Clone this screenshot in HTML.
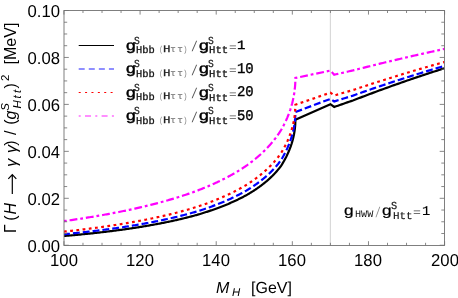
<!DOCTYPE html>
<html><head><meta charset="utf-8"><style>
html,body{margin:0;padding:0;background:#fff}
body{width:458px;height:298px;position:relative;overflow:hidden;font-family:"Liberation Sans",sans-serif;color:#000}
.t{position:absolute;white-space:nowrap;line-height:1;transform:matrix(1,0.002,0,1,0,0)}
.yl{font-size:17.3px;text-align:right;width:60px;left:0.3px;transform-origin:100% 50%;transform:matrix(0.965,0.002,0,1,0,0)}
.xl{font-size:17.3px;text-align:center;width:60px;transform:matrix(0.965,0.002,0,1,0,0)}
.a{font-size:16px}
#ylab{left:0;top:0;width:0;height:0;transform-origin:0 0;transform:translate(17.3px,232.1px) rotate(-90deg)}
#ylab span{position:absolute;white-space:nowrap;line-height:1;font-size:16px;top:-13.54px}
#ylab span.u{font-size:11.4px;top:-16.6px}
#ylab span.d{font-size:11.4px;top:-5.1px}
</style></head><body><div id="w" style="position:absolute;left:0;top:0;width:458px;height:298px;will-change:transform">
<svg width="458" height="298" viewBox="0 0 458 298" style="position:absolute;left:0;top:0"><defs><clipPath id="c"><rect x="63.95" y="10.5" width="380.65000000000003" height="234.75"/></clipPath></defs><line x1="330.35" y1="10.5" x2="330.35" y2="245.25" stroke="#d2d2d2" stroke-width="1"/><g clip-path="url(#c)" fill="none" stroke-width="2.2" stroke-linejoin="miter"><path d="M63.95,236.02 L65.46,235.89 L66.96,235.76 L68.44,235.63 L69.92,235.50 L71.39,235.37 L72.85,235.23 L74.31,235.10 L75.75,234.96 L77.18,234.83 L78.61,234.69 L80.02,234.56 L81.43,234.42 L82.83,234.28 L84.22,234.14 L85.60,234.00 L86.97,233.86 L88.34,233.72 L89.69,233.58 L91.04,233.43 L92.38,233.29 L93.72,233.15 L95.04,233.00 L96.36,232.86 L97.67,232.71 L98.97,232.56 L100.27,232.41 L101.55,232.27 L102.83,232.12 L104.11,231.97 L105.37,231.82 L106.63,231.66 L107.88,231.51 L109.13,231.36 L110.36,231.21 L111.59,231.05 L112.82,230.90 L114.03,230.74 L115.24,230.58 L116.44,230.43 L117.64,230.27 L118.83,230.11 L120.01,229.95 L121.19,229.79 L122.36,229.63 L123.52,229.47 L124.68,229.31 L125.83,229.14 L126.98,228.98 L128.11,228.82 L129.25,228.65 L130.37,228.48 L131.49,228.32 L132.61,228.15 L133.72,227.98 L134.82,227.81 L135.92,227.65 L137.01,227.48 L138.09,227.30 L139.17,227.13 L140.24,226.96 L141.31,226.79 L142.37,226.61 L143.43,226.44 L144.48,226.26 L145.53,226.09 L146.57,225.91 L147.60,225.73 L148.63,225.56 L149.66,225.38 L150.67,225.20 L151.69,225.02 L152.70,224.84 L153.70,224.66 L154.70,224.47 L155.69,224.29 L156.68,224.11 L157.66,223.92 L158.63,223.74 L159.61,223.55 L160.57,223.36 L161.54,223.18 L162.49,222.99 L163.45,222.80 L164.39,222.61 L165.33,222.42 L166.27,222.23 L167.21,222.04 L168.13,221.85 L169.06,221.65 L169.98,221.46 L170.89,221.26 L171.80,221.07 L172.70,220.87 L173.60,220.68 L174.50,220.48 L175.39,220.28 L176.28,220.08 L177.16,219.88 L178.04,219.68 L178.91,219.48 L179.78,219.28 L180.64,219.07 L181.50,218.87 L182.36,218.67 L183.21,218.46 L184.05,218.26 L184.90,218.05 L185.73,217.84 L186.57,217.64 L187.40,217.43 L188.22,217.22 L189.04,217.01 L189.86,216.80 L190.67,216.59 L191.48,216.37 L192.29,216.16 L193.09,215.95 L193.88,215.73 L194.67,215.52 L195.46,215.30 L196.25,215.08 L197.03,214.87 L197.80,214.64 L198.58,214.41 L199.34,214.18 L200.11,213.95 L200.87,213.72 L201.62,213.49 L202.38,213.26 L203.13,213.02 L203.87,212.79 L204.61,212.56 L205.35,212.32 L206.08,212.08 L206.81,211.85 L207.54,211.61 L208.26,211.37 L208.98,211.13 L209.69,210.90 L210.40,210.66 L211.11,210.41 L211.82,210.17 L212.52,209.93 L213.21,209.69 L213.90,209.44 L214.59,209.20 L215.28,208.96 L215.96,208.71 L216.64,208.46 L217.31,208.22 L217.98,207.97 L218.65,207.72 L219.32,207.47 L219.98,207.22 L220.63,206.97 L221.29,206.72 L221.94,206.47 L222.58,206.21 L223.23,205.96 L223.87,205.71 L224.50,205.45 L225.14,205.19 L225.77,204.94 L226.39,204.68 L227.02,204.42 L227.63,204.16 L228.25,203.91 L228.86,203.64 L229.47,203.38 L230.08,203.12 L230.68,202.86 L231.28,202.60 L231.88,202.33 L232.47,202.07 L233.06,201.80 L233.65,201.54 L234.23,201.27 L234.81,201.00 L235.39,200.74 L235.96,200.47 L236.53,200.20 L237.10,199.93 L237.66,199.66 L238.22,199.38 L238.78,199.11 L239.33,198.84 L239.88,198.56 L240.43,198.29 L240.98,198.01 L241.52,197.74 L242.06,197.46 L242.59,197.18 L243.13,196.90 L243.66,196.62 L244.18,196.34 L244.71,196.06 L245.23,195.78 L245.74,195.50 L246.26,195.22 L246.77,194.93 L247.28,194.64 L247.78,194.34 L248.28,194.05 L248.78,193.75 L249.28,193.46 L249.77,193.16 L250.26,192.86 L250.75,192.57 L251.23,192.27 L251.72,191.97 L252.19,191.67 L252.67,191.37 L253.14,191.07 L253.61,190.76 L254.08,190.46 L254.54,190.16 L255.00,189.85 L255.46,189.55 L255.92,189.24 L256.37,188.93 L256.82,188.63 L257.26,188.32 L257.71,188.01 L258.15,187.70 L258.59,187.39 L259.02,187.08 L259.45,186.77 L259.88,186.46 L260.31,186.14 L260.73,185.83 L261.15,185.52 L261.57,185.20 L261.99,184.88 L262.40,184.57 L262.81,184.25 L263.22,183.93 L263.62,183.61 L264.02,183.29 L264.42,182.97 L264.82,182.65 L265.21,182.33 L265.60,182.01 L265.99,181.69 L266.37,181.36 L266.76,181.04 L267.14,180.71 L267.51,180.39 L267.89,180.06 L268.26,179.73 L268.63,179.40 L268.99,179.08 L269.36,178.75 L269.72,178.42 L270.08,178.08 L270.43,177.75 L270.78,177.42 L271.13,177.09 L271.48,176.75 L271.83,176.42 L272.17,176.08 L272.51,175.75 L272.84,175.41 L273.18,175.07 L273.51,174.73 L273.84,174.40 L274.16,174.06 L274.49,173.72 L274.81,173.37 L275.13,173.03 L275.44,172.69 L275.76,172.35 L276.07,172.00 L276.37,171.66 L276.68,171.31 L276.98,170.97 L277.28,170.62 L277.58,170.27 L277.87,169.92 L278.17,169.57 L278.46,169.22 L278.74,168.87 L279.03,168.52 L279.31,168.17 L279.59,167.82 L279.87,167.47 L280.14,167.11 L280.41,166.76 L280.68,166.40 L280.95,166.04 L281.21,165.62 L281.48,165.21 L281.74,164.80 L281.99,164.38 L282.25,163.97 L282.50,163.56 L282.75,163.14 L282.99,162.73 L283.24,162.31 L283.48,161.90 L283.72,161.48 L283.96,161.07 L284.19,160.65 L284.42,160.24 L284.65,159.82 L284.88,159.41 L285.10,158.99 L285.32,158.57 L285.54,158.16 L285.76,157.74 L285.97,157.32 L286.19,156.91 L286.40,156.49 L286.60,156.07 L286.81,155.66 L287.01,155.24 L287.21,154.82 L287.41,154.40 L287.60,153.98 L287.79,153.57 L287.98,153.15 L288.17,152.73 L288.36,152.31 L288.54,151.89 L288.72,151.47 L288.90,151.05 L289.07,150.63 L289.24,150.22 L289.41,149.80 L289.58,149.38 L289.75,148.96 L289.91,148.54 L290.07,148.12 L290.23,147.70 L290.38,147.28 L290.54,146.86 L290.69,146.43 L290.84,146.01 L290.98,145.59 L291.13,145.17 L291.27,144.75 L291.41,144.33 L291.54,143.91 L291.68,143.49 L291.81,143.06 L291.94,142.64 L292.06,142.22 L292.19,141.80 L292.31,141.38 L292.43,140.96 L292.55,140.53 L292.66,140.11 L292.78,139.69 L292.89,139.27 L292.99,138.84 L293.10,138.42 L293.20,138.00 L293.30,137.57 L293.40,137.15 L293.50,136.73 L293.59,136.31 L293.68,135.88 L293.77,135.46 L293.86,135.04 L293.94,134.61 L294.02,134.19 L294.10,133.77 L294.18,133.34 L294.25,132.92 L294.32,132.50 L294.39,132.07 L294.46,131.65 L294.53,131.22 L294.59,130.80 L294.65,130.38 L294.71,129.95 L294.76,129.53 L294.81,129.11 L294.87,128.68 L294.91,128.26 L294.96,127.84 L295.00,127.41 L295.04,126.99 L295.08,126.57 L295.12,126.14 L295.15,125.72 L295.19,125.30 L295.22,124.87 L295.24,124.45 L295.27,124.03 L295.29,123.60 L295.31,123.18 L295.33,122.76 L295.34,122.33 L295.36,121.91 L295.37,121.49 L295.37,121.07 L295.38,120.64 L295.38,120.22 L295.39,119.80 L330.41,104.20 L334.21,107.00 L336.08,106.33 L337.95,105.67 L339.82,105.01 L341.70,104.35 L343.57,103.70 L345.44,103.05 L347.31,102.40 L349.18,101.76 L351.05,101.12 L352.92,100.48 L354.79,99.77 L356.66,99.04 L358.53,98.32 L360.41,97.60 L362.28,96.88 L364.15,96.17 L366.02,95.46 L367.89,94.75 L369.76,94.05 L371.63,93.35 L373.50,92.65 L375.37,91.95 L377.24,91.26 L379.12,90.57 L380.99,89.89 L382.86,89.20 L384.73,88.52 L386.60,87.85 L388.47,87.17 L390.34,86.50 L392.21,85.83 L394.08,85.16 L395.95,84.50 L397.83,83.84 L399.70,83.18 L401.57,82.53 L403.44,81.88 L405.31,81.23 L407.18,80.58 L409.05,79.94 L410.92,79.30 L412.79,78.66 L414.66,78.02 L416.54,77.39 L418.41,76.76 L420.28,76.13 L422.15,75.51 L424.02,74.88 L425.89,74.26 L427.76,73.65 L429.63,73.03 L431.50,72.42 L433.37,71.81 L435.25,71.20 L437.12,70.60 L438.99,69.99 L440.86,69.39 L442.73,68.80 L444.60,68.20" stroke="#000"/><path d="M63.95,234.23 L65.46,234.08 L66.96,233.94 L68.44,233.79 L69.92,233.65 L71.39,233.50 L72.85,233.35 L74.31,233.20 L75.75,233.06 L77.18,232.91 L78.61,232.75 L80.02,232.60 L81.43,232.45 L82.83,232.30 L84.22,232.15 L85.60,231.99 L86.97,231.84 L88.34,231.68 L89.69,231.53 L91.04,231.37 L92.38,231.21 L93.72,231.05 L95.04,230.89 L96.36,230.73 L97.67,230.57 L98.97,230.41 L100.27,230.25 L101.55,230.09 L102.83,229.92 L104.11,229.76 L105.37,229.60 L106.63,229.43 L107.88,229.26 L109.13,229.10 L110.36,228.93 L111.59,228.76 L112.82,228.59 L114.03,228.42 L115.24,228.25 L116.44,228.08 L117.64,227.91 L118.83,227.74 L120.01,227.56 L121.19,227.39 L122.36,227.22 L123.52,227.04 L124.68,226.86 L125.83,226.69 L126.98,226.51 L128.11,226.33 L129.25,226.15 L130.37,225.97 L131.49,225.79 L132.61,225.61 L133.72,225.43 L134.82,225.25 L135.92,225.07 L137.01,224.88 L138.09,224.70 L139.17,224.51 L140.24,224.33 L141.31,224.14 L142.37,223.95 L143.43,223.76 L144.48,223.58 L145.53,223.39 L146.57,223.20 L147.60,223.01 L148.63,222.81 L149.66,222.62 L150.67,222.43 L151.69,222.24 L152.70,222.04 L153.70,221.85 L154.70,221.65 L155.69,221.45 L156.68,221.26 L157.66,221.06 L158.63,220.86 L159.61,220.66 L160.57,220.46 L161.54,220.26 L162.49,220.06 L163.45,219.85 L164.39,219.65 L165.33,219.45 L166.27,219.24 L167.21,219.04 L168.13,218.83 L169.06,218.63 L169.98,218.42 L170.89,218.21 L171.80,218.00 L172.70,217.79 L173.60,217.58 L174.50,217.37 L175.39,217.16 L176.28,216.95 L177.16,216.73 L178.04,216.52 L178.91,216.31 L179.78,216.09 L180.64,215.87 L181.50,215.66 L182.36,215.44 L183.21,215.22 L184.05,215.00 L184.90,214.78 L185.73,214.56 L186.57,214.34 L187.40,214.12 L188.22,213.90 L189.04,213.67 L189.86,213.45 L190.67,213.22 L191.48,213.00 L192.29,212.77 L193.09,212.55 L193.88,212.32 L194.67,212.09 L195.46,211.86 L196.25,211.63 L197.03,211.40 L197.80,211.16 L198.58,210.92 L199.34,210.67 L200.11,210.43 L200.87,210.18 L201.62,209.93 L202.38,209.69 L203.13,209.44 L203.87,209.19 L204.61,208.94 L205.35,208.69 L206.08,208.44 L206.81,208.19 L207.54,207.94 L208.26,207.69 L208.98,207.43 L209.69,207.18 L210.40,206.92 L211.11,206.67 L211.82,206.41 L212.52,206.16 L213.21,205.90 L213.90,205.64 L214.59,205.38 L215.28,205.12 L215.96,204.86 L216.64,204.60 L217.31,204.34 L217.98,204.08 L218.65,203.81 L219.32,203.55 L219.98,203.28 L220.63,203.02 L221.29,202.75 L221.94,202.49 L222.58,202.22 L223.23,201.95 L223.87,201.68 L224.50,201.41 L225.14,201.14 L225.77,200.87 L226.39,200.60 L227.02,200.33 L227.63,200.06 L228.25,199.78 L228.86,199.51 L229.47,199.23 L230.08,198.96 L230.68,198.68 L231.28,198.40 L231.88,198.12 L232.47,197.84 L233.06,197.57 L233.65,197.29 L234.23,197.00 L234.81,196.72 L235.39,196.44 L235.96,196.16 L236.53,195.87 L237.10,195.59 L237.66,195.30 L238.22,195.02 L238.78,194.73 L239.33,194.44 L239.88,194.15 L240.43,193.86 L240.98,193.58 L241.52,193.28 L242.06,192.99 L242.59,192.70 L243.13,192.41 L243.66,192.12 L244.18,191.82 L244.71,191.53 L245.23,191.23 L245.74,190.93 L246.26,190.64 L246.77,190.34 L247.28,190.03 L247.78,189.72 L248.28,189.41 L248.78,189.10 L249.28,188.79 L249.77,188.48 L250.26,188.17 L250.75,187.86 L251.23,187.54 L251.72,187.23 L252.19,186.91 L252.67,186.60 L253.14,186.28 L253.61,185.97 L254.08,185.65 L254.54,185.33 L255.00,185.01 L255.46,184.69 L255.92,184.37 L256.37,184.05 L256.82,183.73 L257.26,183.41 L257.71,183.08 L258.15,182.76 L258.59,182.43 L259.02,182.11 L259.45,181.78 L259.88,181.46 L260.31,181.13 L260.73,180.80 L261.15,180.47 L261.57,180.14 L261.99,179.81 L262.40,179.48 L262.81,179.15 L263.22,178.82 L263.62,178.49 L264.02,178.15 L264.42,177.82 L264.82,177.48 L265.21,177.15 L265.60,176.81 L265.99,176.47 L266.37,176.14 L266.76,175.80 L267.14,175.46 L267.51,175.12 L267.89,174.78 L268.26,174.43 L268.63,174.09 L268.99,173.75 L269.36,173.41 L269.72,173.06 L270.08,172.72 L270.43,172.37 L270.78,172.02 L271.13,171.68 L271.48,171.33 L271.83,170.98 L272.17,170.63 L272.51,170.28 L272.84,169.93 L273.18,169.58 L273.51,169.23 L273.84,168.87 L274.16,168.52 L274.49,168.16 L274.81,167.81 L275.13,167.45 L275.44,167.10 L275.76,166.74 L276.07,166.38 L276.37,166.02 L276.68,165.66 L276.98,165.30 L277.28,164.94 L277.58,164.58 L277.87,164.22 L278.17,163.86 L278.46,163.49 L278.74,163.13 L279.03,162.76 L279.31,162.40 L279.59,162.03 L279.87,161.66 L280.14,161.30 L280.41,160.93 L280.68,160.56 L280.95,160.18 L281.21,159.75 L281.48,159.31 L281.74,158.88 L281.99,158.44 L282.25,158.01 L282.50,157.57 L282.75,157.14 L282.99,156.70 L283.24,156.27 L283.48,155.83 L283.72,155.40 L283.96,154.96 L284.19,154.53 L284.42,154.09 L284.65,153.66 L284.88,153.22 L285.10,152.79 L285.32,152.35 L285.54,151.91 L285.76,151.48 L285.97,151.04 L286.19,150.60 L286.40,150.17 L286.60,149.73 L286.81,149.30 L287.01,148.86 L287.21,148.42 L287.41,147.99 L287.60,147.55 L287.79,147.11 L287.98,146.67 L288.17,146.24 L288.36,145.80 L288.54,145.36 L288.72,144.93 L288.90,144.49 L289.07,144.05 L289.24,143.61 L289.41,143.18 L289.58,142.74 L289.75,142.30 L289.91,141.86 L290.07,141.42 L290.23,140.99 L290.38,140.55 L290.54,140.11 L290.69,139.67 L290.84,139.23 L290.98,138.80 L291.13,138.36 L291.27,137.92 L291.41,137.48 L291.54,137.04 L291.68,136.60 L291.81,136.17 L291.94,135.73 L292.06,135.29 L292.19,134.85 L292.31,134.41 L292.43,133.97 L292.55,133.54 L292.66,133.10 L292.78,132.66 L292.89,132.22 L292.99,131.78 L293.10,131.34 L293.20,130.90 L293.30,130.46 L293.40,130.03 L293.50,129.59 L293.59,129.15 L293.68,128.71 L293.77,128.27 L293.86,127.83 L293.94,127.39 L294.02,126.96 L294.10,126.52 L294.18,126.08 L294.25,125.64 L294.32,125.20 L294.39,124.76 L294.46,124.33 L294.53,123.89 L294.59,123.45 L294.65,123.01 L294.71,122.57 L294.76,122.14 L294.81,121.70 L294.87,121.26 L294.91,120.82 L294.96,120.38 L295.00,119.95 L295.04,119.51 L295.08,119.07 L295.12,118.64 L295.15,118.20 L295.19,117.76 L295.22,117.33 L295.24,116.89 L295.27,116.45 L295.29,116.02 L295.31,115.58 L295.33,115.15 L295.34,114.71 L295.36,114.27 L295.37,113.84 L295.37,113.40 L295.38,112.97 L295.38,112.53 L295.39,112.10 L330.41,98.90 L334.21,101.50 L336.08,100.90 L337.95,100.30 L339.82,99.70 L341.70,99.11 L343.57,98.52 L345.44,97.93 L347.31,97.34 L349.18,96.76 L351.05,96.18 L352.92,95.60 L354.79,94.95 L356.66,94.28 L358.53,93.62 L360.41,92.95 L362.28,92.29 L364.15,91.64 L366.02,90.99 L367.89,90.33 L369.76,89.69 L371.63,89.04 L373.50,88.40 L375.37,87.76 L377.24,87.12 L379.12,86.49 L380.99,85.86 L382.86,85.23 L384.73,84.60 L386.60,83.98 L388.47,83.36 L390.34,82.74 L392.21,82.12 L394.08,81.51 L395.95,80.90 L397.83,80.29 L399.70,79.69 L401.57,79.08 L403.44,78.48 L405.31,77.89 L407.18,77.29 L409.05,76.70 L410.92,76.11 L412.79,75.52 L414.66,74.94 L416.54,74.35 L418.41,73.77 L420.28,73.19 L422.15,72.62 L424.02,72.05 L425.89,71.48 L427.76,70.91 L429.63,70.34 L431.50,69.78 L433.37,69.22 L435.25,68.66 L437.12,68.10 L438.99,67.55 L440.86,67.00 L442.73,66.45 L444.60,65.90" stroke="#0000ff" stroke-dasharray="6.9 3.0" stroke-dashoffset="0.9"/><path d="M63.95,231.61 L65.46,231.45 L66.96,231.29 L68.44,231.13 L69.92,230.96 L71.39,230.80 L72.85,230.64 L74.31,230.47 L75.75,230.30 L77.18,230.14 L78.61,229.97 L80.02,229.80 L81.43,229.63 L82.83,229.46 L84.22,229.29 L85.60,229.12 L86.97,228.95 L88.34,228.78 L89.69,228.61 L91.04,228.43 L92.38,228.26 L93.72,228.08 L95.04,227.91 L96.36,227.73 L97.67,227.55 L98.97,227.38 L100.27,227.20 L101.55,227.02 L102.83,226.84 L104.11,226.66 L105.37,226.48 L106.63,226.30 L107.88,226.11 L109.13,225.93 L110.36,225.75 L111.59,225.56 L112.82,225.38 L114.03,225.19 L115.24,225.00 L116.44,224.82 L117.64,224.63 L118.83,224.44 L120.01,224.25 L121.19,224.06 L122.36,223.87 L123.52,223.68 L124.68,223.49 L125.83,223.29 L126.98,223.10 L128.11,222.91 L129.25,222.71 L130.37,222.52 L131.49,222.32 L132.61,222.12 L133.72,221.93 L134.82,221.73 L135.92,221.53 L137.01,221.33 L138.09,221.13 L139.17,220.93 L140.24,220.72 L141.31,220.52 L142.37,220.32 L143.43,220.12 L144.48,219.91 L145.53,219.71 L146.57,219.50 L147.60,219.29 L148.63,219.09 L149.66,218.88 L150.67,218.67 L151.69,218.46 L152.70,218.25 L153.70,218.04 L154.70,217.83 L155.69,217.61 L156.68,217.40 L157.66,217.19 L158.63,216.97 L159.61,216.76 L160.57,216.54 L161.54,216.33 L162.49,216.11 L163.45,215.89 L164.39,215.67 L165.33,215.45 L166.27,215.23 L167.21,215.01 L168.13,214.79 L169.06,214.57 L169.98,214.34 L170.89,214.12 L171.80,213.90 L172.70,213.67 L173.60,213.45 L174.50,213.22 L175.39,212.99 L176.28,212.76 L177.16,212.54 L178.04,212.31 L178.91,212.08 L179.78,211.85 L180.64,211.61 L181.50,211.38 L182.36,211.15 L183.21,210.92 L184.05,210.68 L184.90,210.45 L185.73,210.21 L186.57,209.97 L187.40,209.74 L188.22,209.50 L189.04,209.26 L189.86,209.02 L190.67,208.78 L191.48,208.54 L192.29,208.30 L193.09,208.06 L193.88,207.81 L194.67,207.57 L195.46,207.32 L196.25,207.08 L197.03,206.83 L197.80,206.58 L198.58,206.32 L199.34,206.06 L200.11,205.80 L200.87,205.54 L201.62,205.28 L202.38,205.02 L203.13,204.75 L203.87,204.49 L204.61,204.23 L205.35,203.96 L206.08,203.70 L206.81,203.43 L207.54,203.17 L208.26,202.90 L208.98,202.63 L209.69,202.36 L210.40,202.09 L211.11,201.82 L211.82,201.55 L212.52,201.28 L213.21,201.01 L213.90,200.74 L214.59,200.46 L215.28,200.19 L215.96,199.91 L216.64,199.64 L217.31,199.36 L217.98,199.08 L218.65,198.81 L219.32,198.53 L219.98,198.25 L220.63,197.97 L221.29,197.69 L221.94,197.41 L222.58,197.13 L223.23,196.84 L223.87,196.56 L224.50,196.28 L225.14,195.99 L225.77,195.71 L226.39,195.42 L227.02,195.13 L227.63,194.84 L228.25,194.56 L228.86,194.27 L229.47,193.98 L230.08,193.69 L230.68,193.40 L231.28,193.10 L231.88,192.81 L232.47,192.52 L233.06,192.22 L233.65,191.93 L234.23,191.63 L234.81,191.34 L235.39,191.04 L235.96,190.74 L236.53,190.44 L237.10,190.14 L237.66,189.84 L238.22,189.54 L238.78,189.24 L239.33,188.94 L239.88,188.64 L240.43,188.33 L240.98,188.03 L241.52,187.72 L242.06,187.42 L242.59,187.11 L243.13,186.81 L243.66,186.50 L244.18,186.19 L244.71,185.88 L245.23,185.57 L245.74,185.26 L246.26,184.95 L246.77,184.63 L247.28,184.31 L247.78,183.99 L248.28,183.66 L248.78,183.34 L249.28,183.01 L249.77,182.69 L250.26,182.36 L250.75,182.03 L251.23,181.71 L251.72,181.38 L252.19,181.05 L252.67,180.72 L253.14,180.39 L253.61,180.06 L254.08,179.73 L254.54,179.39 L255.00,179.06 L255.46,178.72 L255.92,178.39 L256.37,178.05 L256.82,177.72 L257.26,177.38 L257.71,177.04 L258.15,176.71 L258.59,176.37 L259.02,176.03 L259.45,175.69 L259.88,175.35 L260.31,175.00 L260.73,174.66 L261.15,174.32 L261.57,173.97 L261.99,173.63 L262.40,173.28 L262.81,172.94 L263.22,172.59 L263.62,172.24 L264.02,171.90 L264.42,171.55 L264.82,171.20 L265.21,170.85 L265.60,170.50 L265.99,170.14 L266.37,169.79 L266.76,169.44 L267.14,169.08 L267.51,168.73 L267.89,168.37 L268.26,168.02 L268.63,167.66 L268.99,167.30 L269.36,166.95 L269.72,166.59 L270.08,166.23 L270.43,165.87 L270.78,165.51 L271.13,165.14 L271.48,164.78 L271.83,164.42 L272.17,164.06 L272.51,163.69 L272.84,163.33 L273.18,162.96 L273.51,162.59 L273.84,162.23 L274.16,161.86 L274.49,161.49 L274.81,161.12 L275.13,160.75 L275.44,160.38 L275.76,160.01 L276.07,159.63 L276.37,159.26 L276.68,158.89 L276.98,158.51 L277.28,158.14 L277.58,157.76 L277.87,157.38 L278.17,157.01 L278.46,156.63 L278.74,156.25 L279.03,155.87 L279.31,155.49 L279.59,155.11 L279.87,154.73 L280.14,154.35 L280.41,153.96 L280.68,153.58 L280.95,153.19 L281.21,152.76 L281.48,152.33 L281.74,151.91 L281.99,151.48 L282.25,151.05 L282.50,150.62 L282.75,150.19 L282.99,149.76 L283.24,149.33 L283.48,148.90 L283.72,148.47 L283.96,148.04 L284.19,147.61 L284.42,147.18 L284.65,146.74 L284.88,146.31 L285.10,145.88 L285.32,145.45 L285.54,145.01 L285.76,144.58 L285.97,144.15 L286.19,143.71 L286.40,143.28 L286.60,142.85 L286.81,142.41 L287.01,141.98 L287.21,141.54 L287.41,141.11 L287.60,140.67 L287.79,140.23 L287.98,139.80 L288.17,139.36 L288.36,138.92 L288.54,138.49 L288.72,138.05 L288.90,137.61 L289.07,137.17 L289.24,136.74 L289.41,136.30 L289.58,135.86 L289.75,135.42 L289.91,134.98 L290.07,134.54 L290.23,134.10 L290.38,133.66 L290.54,133.22 L290.69,132.78 L290.84,132.34 L290.98,131.90 L291.13,131.46 L291.27,131.02 L291.41,130.58 L291.54,130.13 L291.68,129.69 L291.81,129.25 L291.94,128.81 L292.06,128.37 L292.19,127.92 L292.31,127.48 L292.43,127.04 L292.55,126.59 L292.66,126.15 L292.78,125.71 L292.89,125.26 L292.99,124.82 L293.10,124.37 L293.20,123.93 L293.30,123.48 L293.40,123.04 L293.50,122.59 L293.59,122.15 L293.68,121.70 L293.77,121.26 L293.86,120.81 L293.94,120.37 L294.02,119.92 L294.10,119.47 L294.18,119.03 L294.25,118.58 L294.32,118.13 L294.39,117.69 L294.46,117.24 L294.53,116.79 L294.59,116.35 L294.65,115.90 L294.71,115.45 L294.76,115.00 L294.81,114.56 L294.87,114.11 L294.91,113.66 L294.96,113.21 L295.00,112.77 L295.04,112.32 L295.08,111.87 L295.12,111.42 L295.15,110.97 L295.19,110.53 L295.22,110.08 L295.24,109.63 L295.27,109.18 L295.29,108.73 L295.31,108.28 L295.33,107.84 L295.34,107.39 L295.36,106.94 L295.37,106.49 L295.37,106.04 L295.38,105.60 L295.38,105.15 L295.39,104.70 L330.41,92.70 L334.21,95.50 L336.08,94.95 L337.95,94.39 L339.82,93.84 L341.70,93.30 L343.57,92.75 L345.44,92.20 L347.31,91.66 L349.18,91.12 L351.05,90.58 L352.92,90.05 L354.79,89.43 L356.66,88.81 L358.53,88.18 L360.41,87.56 L362.28,86.94 L364.15,86.32 L366.02,85.71 L367.89,85.10 L369.76,84.48 L371.63,83.88 L373.50,83.27 L375.37,82.67 L377.24,82.07 L379.12,81.47 L380.99,80.87 L382.86,80.28 L384.73,79.69 L386.60,79.10 L388.47,78.51 L390.34,77.93 L392.21,77.35 L394.08,76.77 L395.95,76.19 L397.83,75.62 L399.70,75.05 L401.57,74.48 L403.44,73.91 L405.31,73.34 L407.18,72.78 L409.05,72.22 L410.92,71.66 L412.79,71.11 L414.66,70.55 L416.54,70.00 L418.41,69.45 L420.28,68.91 L422.15,68.36 L424.02,67.82 L425.89,67.28 L427.76,66.74 L429.63,66.21 L431.50,65.67 L433.37,65.14 L435.25,64.61 L437.12,64.09 L438.99,63.56 L440.86,63.04 L442.73,62.52 L444.60,62.00" stroke="#ff0000" stroke-dasharray="2.8 3.45" stroke-dashoffset="0"/><path d="M63.95,221.12 L65.46,220.91 L66.96,220.70 L68.44,220.49 L69.92,220.28 L71.39,220.06 L72.85,219.85 L74.31,219.64 L75.75,219.42 L77.18,219.21 L78.61,218.99 L80.02,218.77 L81.43,218.56 L82.83,218.34 L84.22,218.12 L85.60,217.90 L86.97,217.68 L88.34,217.46 L89.69,217.24 L91.04,217.02 L92.38,216.80 L93.72,216.58 L95.04,216.35 L96.36,216.13 L97.67,215.90 L98.97,215.68 L100.27,215.45 L101.55,215.23 L102.83,215.00 L104.11,214.77 L105.37,214.54 L106.63,214.31 L107.88,214.08 L109.13,213.85 L110.36,213.62 L111.59,213.39 L112.82,213.16 L114.03,212.93 L115.24,212.69 L116.44,212.46 L117.64,212.23 L118.83,211.99 L120.01,211.75 L121.19,211.52 L122.36,211.28 L123.52,211.04 L124.68,210.80 L125.83,210.57 L126.98,210.33 L128.11,210.09 L129.25,209.84 L130.37,209.60 L131.49,209.36 L132.61,209.12 L133.72,208.87 L134.82,208.63 L135.92,208.38 L137.01,208.14 L138.09,207.89 L139.17,207.64 L140.24,207.40 L141.31,207.15 L142.37,206.90 L143.43,206.65 L144.48,206.40 L145.53,206.15 L146.57,205.90 L147.60,205.64 L148.63,205.39 L149.66,205.14 L150.67,204.88 L151.69,204.63 L152.70,204.37 L153.70,204.12 L154.70,203.86 L155.69,203.60 L156.68,203.34 L157.66,203.09 L158.63,202.83 L159.61,202.57 L160.57,202.30 L161.54,202.04 L162.49,201.78 L163.45,201.52 L164.39,201.25 L165.33,200.99 L166.27,200.72 L167.21,200.46 L168.13,200.19 L169.06,199.92 L169.98,199.66 L170.89,199.39 L171.80,199.12 L172.70,198.85 L173.60,198.58 L174.50,198.31 L175.39,198.03 L176.28,197.76 L177.16,197.49 L178.04,197.21 L178.91,196.94 L179.78,196.66 L180.64,196.39 L181.50,196.11 L182.36,195.83 L183.21,195.56 L184.05,195.28 L184.90,195.00 L185.73,194.72 L186.57,194.44 L187.40,194.15 L188.22,193.87 L189.04,193.59 L189.86,193.30 L190.67,193.02 L191.48,192.73 L192.29,192.45 L193.09,192.16 L193.88,191.87 L194.67,191.59 L195.46,191.30 L196.25,191.01 L197.03,190.72 L197.80,190.42 L198.58,190.12 L199.34,189.83 L200.11,189.53 L200.87,189.23 L201.62,188.93 L202.38,188.63 L203.13,188.32 L203.87,188.02 L204.61,187.72 L205.35,187.42 L206.08,187.11 L206.81,186.81 L207.54,186.50 L208.26,186.19 L208.98,185.89 L209.69,185.58 L210.40,185.27 L211.11,184.96 L211.82,184.65 L212.52,184.34 L213.21,184.03 L213.90,183.72 L214.59,183.40 L215.28,183.09 L215.96,182.78 L216.64,182.46 L217.31,182.14 L217.98,181.83 L218.65,181.51 L219.32,181.19 L219.98,180.87 L220.63,180.55 L221.29,180.23 L221.94,179.91 L222.58,179.59 L223.23,179.27 L223.87,178.95 L224.50,178.62 L225.14,178.30 L225.77,177.97 L226.39,177.65 L227.02,177.32 L227.63,176.99 L228.25,176.67 L228.86,176.34 L229.47,176.01 L230.08,175.68 L230.68,175.35 L231.28,175.02 L231.88,174.68 L232.47,174.35 L233.06,174.02 L233.65,173.68 L234.23,173.35 L234.81,173.01 L235.39,172.67 L235.96,172.33 L236.53,172.00 L237.10,171.66 L237.66,171.32 L238.22,170.98 L238.78,170.64 L239.33,170.29 L239.88,169.95 L240.43,169.61 L240.98,169.26 L241.52,168.92 L242.06,168.57 L242.59,168.22 L243.13,167.88 L243.66,167.53 L244.18,167.18 L244.71,166.83 L245.23,166.48 L245.74,166.13 L246.26,165.78 L246.77,165.42 L247.28,165.06 L247.78,164.69 L248.28,164.33 L248.78,163.96 L249.28,163.60 L249.77,163.23 L250.26,162.86 L250.75,162.49 L251.23,162.12 L251.72,161.75 L252.19,161.38 L252.67,161.01 L253.14,160.63 L253.61,160.26 L254.08,159.89 L254.54,159.51 L255.00,159.14 L255.46,158.76 L255.92,158.38 L256.37,158.01 L256.82,157.63 L257.26,157.25 L257.71,156.87 L258.15,156.49 L258.59,156.11 L259.02,155.73 L259.45,155.34 L259.88,154.96 L260.31,154.58 L260.73,154.19 L261.15,153.81 L261.57,153.42 L261.99,153.04 L262.40,152.65 L262.81,152.26 L263.22,151.87 L263.62,151.48 L264.02,151.09 L264.42,150.70 L264.82,150.31 L265.21,149.92 L265.60,149.52 L265.99,149.13 L266.37,148.73 L266.76,148.34 L267.14,147.94 L267.51,147.55 L267.89,147.15 L268.26,146.75 L268.63,146.35 L268.99,145.95 L269.36,145.55 L269.72,145.15 L270.08,144.75 L270.43,144.35 L270.78,143.94 L271.13,143.54 L271.48,143.13 L271.83,142.73 L272.17,142.32 L272.51,141.92 L272.84,141.51 L273.18,141.10 L273.51,140.69 L273.84,140.28 L274.16,139.87 L274.49,139.46 L274.81,139.05 L275.13,138.64 L275.44,138.22 L275.76,137.81 L276.07,137.39 L276.37,136.98 L276.68,136.56 L276.98,136.15 L277.28,135.73 L277.58,135.31 L277.87,134.89 L278.17,134.47 L278.46,134.05 L278.74,133.63 L279.03,133.21 L279.31,132.79 L279.59,132.36 L279.87,131.94 L280.14,131.51 L280.41,131.09 L280.68,130.66 L280.95,130.23 L281.21,129.78 L281.48,129.32 L281.74,128.87 L281.99,128.41 L282.25,127.96 L282.50,127.50 L282.75,127.05 L282.99,126.59 L283.24,126.13 L283.48,125.67 L283.72,125.21 L283.96,124.76 L284.19,124.30 L284.42,123.84 L284.65,123.38 L284.88,122.92 L285.10,122.46 L285.32,121.99 L285.54,121.53 L285.76,121.07 L285.97,120.61 L286.19,120.14 L286.40,119.68 L286.60,119.22 L286.81,118.75 L287.01,118.29 L287.21,117.82 L287.41,117.36 L287.60,116.89 L287.79,116.42 L287.98,115.96 L288.17,115.49 L288.36,115.02 L288.54,114.55 L288.72,114.08 L288.90,113.61 L289.07,113.14 L289.24,112.67 L289.41,112.20 L289.58,111.73 L289.75,111.26 L289.91,110.79 L290.07,110.32 L290.23,109.85 L290.38,109.37 L290.54,108.90 L290.69,108.43 L290.84,107.95 L290.98,107.48 L291.13,107.01 L291.27,106.53 L291.41,106.06 L291.54,105.58 L291.68,105.10 L291.81,104.63 L291.94,104.15 L292.06,103.67 L292.19,103.20 L292.31,102.72 L292.43,102.24 L292.55,101.76 L292.66,101.28 L292.78,100.80 L292.89,100.32 L292.99,99.85 L293.10,99.37 L293.20,98.88 L293.30,98.40 L293.40,97.92 L293.50,97.44 L293.59,96.96 L293.68,96.48 L293.77,96.00 L293.86,95.51 L293.94,95.03 L294.02,94.55 L294.10,94.06 L294.18,93.58 L294.25,93.10 L294.32,92.61 L294.39,92.13 L294.46,91.64 L294.53,91.16 L294.59,90.67 L294.65,90.19 L294.71,89.70 L294.76,89.22 L294.81,88.73 L294.87,88.25 L294.91,87.76 L294.96,87.27 L295.00,86.79 L295.04,86.30 L295.08,85.81 L295.12,85.32 L295.15,84.84 L295.19,84.35 L295.22,83.86 L295.24,83.37 L295.27,82.89 L295.29,82.40 L295.31,81.91 L295.33,81.42 L295.34,80.93 L295.36,80.44 L295.37,79.96 L295.37,79.47 L295.38,78.98 L295.38,78.49 L295.39,78.00 L330.41,70.60 L334.21,74.70 L336.08,74.28 L337.95,73.85 L339.82,73.42 L341.70,72.99 L343.57,72.57 L345.44,72.14 L347.31,71.71 L349.18,71.28 L351.05,70.85 L352.92,70.43 L354.79,69.96 L356.66,69.49 L358.53,69.01 L360.41,68.54 L362.28,68.07 L364.15,67.60 L366.02,67.14 L367.89,66.67 L369.76,66.20 L371.63,65.74 L373.50,65.28 L375.37,64.81 L377.24,64.35 L379.12,63.90 L380.99,63.44 L382.86,62.98 L384.73,62.53 L386.60,62.08 L388.47,61.63 L390.34,61.18 L392.21,60.73 L394.08,60.29 L395.95,59.84 L397.83,59.40 L399.70,58.96 L401.57,58.52 L403.44,58.08 L405.31,57.65 L407.18,57.22 L409.05,56.78 L410.92,56.35 L412.79,55.93 L414.66,55.50 L416.54,55.07 L418.41,54.65 L420.28,54.23 L422.15,53.81 L424.02,53.39 L425.89,52.97 L427.76,52.56 L429.63,52.15 L431.50,51.73 L433.37,51.32 L435.25,50.92 L437.12,50.51 L438.99,50.10 L440.86,49.70 L442.73,49.30 L444.60,48.90" stroke="#ff00ff" stroke-dasharray="2.8 2.9 7.85 2.9" stroke-dashoffset="0"/></g><rect x="64.0" y="10.5" width="380.5" height="235.0" fill="none" stroke="#727272" stroke-width="0.9"/><path d="M63.95,245.5 v-4.3 M63.95,10.5 v4.1 M82.98,245.5 v-2.7 M82.98,10.5 v2.5 M102.02,245.5 v-2.7 M102.02,10.5 v2.5 M121.05,245.5 v-2.7 M121.05,10.5 v2.5 M140.08,245.5 v-4.3 M140.08,10.5 v4.1 M159.11,245.5 v-2.7 M159.11,10.5 v2.5 M178.15,245.5 v-2.7 M178.15,10.5 v2.5 M197.18,245.5 v-2.7 M197.18,10.5 v2.5 M216.21,245.5 v-4.3 M216.21,10.5 v4.1 M235.24,245.5 v-2.7 M235.24,10.5 v2.5 M254.27,245.5 v-2.7 M254.27,10.5 v2.5 M273.31,245.5 v-2.7 M273.31,10.5 v2.5 M292.34,245.5 v-4.3 M292.34,10.5 v4.1 M311.37,245.5 v-2.7 M311.37,10.5 v2.5 M330.41,245.5 v-2.7 M330.41,10.5 v2.5 M349.44,245.5 v-2.7 M349.44,10.5 v2.5 M368.47,245.5 v-4.3 M368.47,10.5 v4.1 M387.50,245.5 v-2.7 M387.50,10.5 v2.5 M406.53,245.5 v-2.7 M406.53,10.5 v2.5 M425.57,245.5 v-2.7 M425.57,10.5 v2.5 M444.60,245.5 v-4.3 M444.60,10.5 v4.1 M64.0,245.25 h4.8 M444.5,245.25 h-4.8 M64.0,233.51 h3.2 M444.5,233.51 h-3.2 M64.0,221.78 h3.2 M444.5,221.78 h-3.2 M64.0,210.04 h3.2 M444.5,210.04 h-3.2 M64.0,198.30 h4.8 M444.5,198.30 h-4.8 M64.0,186.56 h3.2 M444.5,186.56 h-3.2 M64.0,174.82 h3.2 M444.5,174.82 h-3.2 M64.0,163.09 h3.2 M444.5,163.09 h-3.2 M64.0,151.35 h4.8 M444.5,151.35 h-4.8 M64.0,139.61 h3.2 M444.5,139.61 h-3.2 M64.0,127.88 h3.2 M444.5,127.88 h-3.2 M64.0,116.14 h3.2 M444.5,116.14 h-3.2 M64.0,104.40 h4.8 M444.5,104.40 h-4.8 M64.0,92.66 h3.2 M444.5,92.66 h-3.2 M64.0,80.93 h3.2 M444.5,80.93 h-3.2 M64.0,69.19 h3.2 M444.5,69.19 h-3.2 M64.0,57.45 h4.8 M444.5,57.45 h-4.8 M64.0,45.71 h3.2 M444.5,45.71 h-3.2 M64.0,33.98 h3.2 M444.5,33.98 h-3.2 M64.0,22.24 h3.2 M444.5,22.24 h-3.2 M64.0,10.50 h4.8 M444.5,10.50 h-4.8" stroke="#727272" stroke-width="0.85" fill="none"/><line x1="78.7" y1="45.5" x2="114.0" y2="45.5" stroke="#000" stroke-width="1.1"/><line x1="78.7" y1="69.0" x2="114.0" y2="69.0" stroke="#2020ff" stroke-width="1.1" stroke-dasharray="6 4.07"/><line x1="78.7" y1="92.5" x2="114.0" y2="92.5" stroke="#ff0000" stroke-width="1.1" stroke-dasharray="2 4.38"/><line x1="78.7" y1="116.0" x2="114.0" y2="116.0" stroke="#ff20ff" stroke-width="1.1" stroke-dasharray="2 4.3 6 4.3"/></svg>
<div class="t yl" style="top:237.90px">0.00</div>
<div class="t yl" style="top:190.95px">0.02</div>
<div class="t yl" style="top:144.00px">0.04</div>
<div class="t yl" style="top:97.05px">0.06</div>
<div class="t yl" style="top:50.10px">0.08</div>
<div class="t yl" style="top:3.15px">0.10</div>
<div class="t xl" style="left:33.95px;top:251.6px">100</div>
<div class="t xl" style="left:110.08px;top:251.6px">120</div>
<div class="t xl" style="left:186.21px;top:251.6px">140</div>
<div class="t xl" style="left:262.34px;top:251.6px">160</div>
<div class="t xl" style="left:338.47px;top:251.6px">180</div>
<div class="t xl" style="left:414.60px;top:251.6px">200</div>
<div class="t a" style="left:216.2px;top:280.16px"><i>M</i></div>
<div class="t" style="left:232.4px;top:286.55px;font-size:11.4px"><i>H</i></div>
<div class="t a" style="left:250.7px;top:280.16px">[GeV]</div>
<div class="t" id="ylab"><span class="" style="left:-1px">Γ</span><span class="" style="left:11.3px">(</span><span class="" style="left:17.5px"><i>H</i></span><span class="" style="left:65.4px;top:-12.6px"><i>γ</i></span><span class="" style="left:79px;top:-12.6px"><i>γ</i></span><span class="" style="left:86.3px">)</span><span class="" style="left:97px">/</span><span class="" style="left:107.4px">(</span><span class="" style="left:112.6px"><i>g</i></span><span class="u" style="left:121.3px"><i>S</i></span><span class="d" style="left:123.5px"><i>H</i></span><span class="d" style="left:133.6px"><i>t</i></span><span class="d" style="left:139.1px"><i>t</i></span><span class="" style="left:143.7px">)</span><span class="u" style="left:151px">2</span><span class="" style="left:167.7px">[MeV]</span><svg style="position:absolute;left:37.6px;top:-11.2px;overflow:visible" width="21" height="10"><path d="M0,6 H19.3 M15.3,2 L19.5,6 L15.3,10" fill="none" stroke="#000" stroke-width="1.2"/></svg></div>
<div class="t" style="left:125.50px;top:37.70px;font:normal normal 14.2px/1 'Liberation Sans';color:#000;transform-origin:0 0;transform:matrix(1.236,0.002,0,1,0,0);-webkit-text-stroke:0.42px #000;">g</div>
<div class="t" style="left:134.32px;top:35.74px;font:normal normal 10.8px/1 'Liberation Mono';color:#111;transform-origin:0 0;transform:matrix(0.890,0.002,0,1,0,0);-webkit-text-stroke:0.2px #111;">S</div>
<div class="t" style="left:136.07px;top:45.14px;font:normal normal 10.4px/1 'Liberation Mono';color:#111;transform-origin:0 0;transform:matrix(1.002,0.002,0,1,0,0);-webkit-text-stroke:0.27px #111;">Hbb</div>
<div class="t" style="left:158.74px;top:46.22px;font:normal normal 8.6px/1 'Liberation Mono';color:#8a8a8a;transform-origin:0 0;transform:matrix(0.818,0.002,0,1,0,0);">(</div>
<div class="t" style="left:162.80px;top:45.25px;font:normal normal 10px/1 'Liberation Mono';color:#222;transform-origin:0 0;transform:matrix(1.250,0.002,0,1,0,0);-webkit-text-stroke:0.25px #222;">H</div>
<div class="t" style="left:170.33px;top:46.02px;font:normal normal 9.0px/1 'Liberation Mono';color:#6a6a6a;transform-origin:0 0;transform:matrix(1.136,0.002,0,1,0,0);">τ</div>
<div class="t" style="left:176.52px;top:46.02px;font:normal normal 9.0px/1 'Liberation Mono';color:#6a6a6a;transform-origin:0 0;transform:matrix(1.162,0.002,0,1,0,0);">τ</div>
<div class="t" style="left:182.95px;top:46.22px;font:normal normal 8.6px/1 'Liberation Mono';color:#8a8a8a;transform-origin:0 0;transform:matrix(0.878,0.002,0,1,0,0);">)</div>
<div class="t" style="left:190.52px;top:40.19px;font:normal normal 14px/1 'Liberation Mono';color:#555;transform-origin:0 0;transform:matrix(0.804,0.002,0,1,0,0);">/</div>
<div class="t" style="left:198.59px;top:37.70px;font:normal normal 14.2px/1 'Liberation Sans';color:#000;transform-origin:0 0;transform:matrix(1.252,0.002,0,1,0,0);-webkit-text-stroke:0.42px #000;">g</div>
<div class="t" style="left:207.52px;top:35.74px;font:normal normal 10.8px/1 'Liberation Mono';color:#111;transform-origin:0 0;transform:matrix(0.890,0.002,0,1,0,0);-webkit-text-stroke:0.2px #111;">S</div>
<div class="t" style="left:208.85px;top:45.44px;font:normal normal 10.4px/1 'Liberation Mono';color:#111;transform-origin:0 0;transform:matrix(1.024,0.002,0,1,0,0);-webkit-text-stroke:0.27px #111;">Htt</div>
<div class="t" style="left:228.90px;top:41.70px;font:normal normal 11.5px/1 'Liberation Mono';color:#555;transform-origin:0 0;transform:matrix(1.112,0.002,0,1,0,0);">=</div>
<div class="t" style="left:237.22px;top:40.36px;font:normal normal 12.6px/1 'Liberation Mono';color:#000;transform-origin:0 0;transform:matrix(1.108,0.002,0,1,0,0);-webkit-text-stroke:0.38px #000;">1</div>
<div class="t" style="left:125.50px;top:61.25px;font:normal normal 14.2px/1 'Liberation Sans';color:#000;transform-origin:0 0;transform:matrix(1.236,0.002,0,1,0,0);-webkit-text-stroke:0.42px #000;">g</div>
<div class="t" style="left:134.32px;top:59.29px;font:normal normal 10.8px/1 'Liberation Mono';color:#111;transform-origin:0 0;transform:matrix(0.890,0.002,0,1,0,0);-webkit-text-stroke:0.2px #111;">S</div>
<div class="t" style="left:136.07px;top:68.69px;font:normal normal 10.4px/1 'Liberation Mono';color:#111;transform-origin:0 0;transform:matrix(1.002,0.002,0,1,0,0);-webkit-text-stroke:0.27px #111;">Hbb</div>
<div class="t" style="left:158.74px;top:69.77px;font:normal normal 8.6px/1 'Liberation Mono';color:#8a8a8a;transform-origin:0 0;transform:matrix(0.818,0.002,0,1,0,0);">(</div>
<div class="t" style="left:162.80px;top:68.80px;font:normal normal 10px/1 'Liberation Mono';color:#222;transform-origin:0 0;transform:matrix(1.250,0.002,0,1,0,0);-webkit-text-stroke:0.25px #222;">H</div>
<div class="t" style="left:170.33px;top:69.56px;font:normal normal 9.0px/1 'Liberation Mono';color:#6a6a6a;transform-origin:0 0;transform:matrix(1.136,0.002,0,1,0,0);">τ</div>
<div class="t" style="left:176.52px;top:69.56px;font:normal normal 9.0px/1 'Liberation Mono';color:#6a6a6a;transform-origin:0 0;transform:matrix(1.162,0.002,0,1,0,0);">τ</div>
<div class="t" style="left:182.95px;top:69.77px;font:normal normal 8.6px/1 'Liberation Mono';color:#8a8a8a;transform-origin:0 0;transform:matrix(0.878,0.002,0,1,0,0);">)</div>
<div class="t" style="left:190.52px;top:63.74px;font:normal normal 14px/1 'Liberation Mono';color:#555;transform-origin:0 0;transform:matrix(0.804,0.002,0,1,0,0);">/</div>
<div class="t" style="left:198.59px;top:61.25px;font:normal normal 14.2px/1 'Liberation Sans';color:#000;transform-origin:0 0;transform:matrix(1.252,0.002,0,1,0,0);-webkit-text-stroke:0.42px #000;">g</div>
<div class="t" style="left:207.52px;top:59.29px;font:normal normal 10.8px/1 'Liberation Mono';color:#111;transform-origin:0 0;transform:matrix(0.890,0.002,0,1,0,0);-webkit-text-stroke:0.2px #111;">S</div>
<div class="t" style="left:208.85px;top:68.99px;font:normal normal 10.4px/1 'Liberation Mono';color:#111;transform-origin:0 0;transform:matrix(1.024,0.002,0,1,0,0);-webkit-text-stroke:0.27px #111;">Htt</div>
<div class="t" style="left:228.90px;top:65.25px;font:normal normal 11.5px/1 'Liberation Mono';color:#555;transform-origin:0 0;transform:matrix(1.112,0.002,0,1,0,0);">=</div>
<div class="t" style="left:237.33px;top:61.93px;font:normal normal 14.8px/1 'Liberation Mono';color:#000;transform-origin:0 0;transform:matrix(0.941,0.002,0,1,0,0);-webkit-text-stroke:0.38px #000;">10</div>
<div class="t" style="left:125.50px;top:84.80px;font:normal normal 14.2px/1 'Liberation Sans';color:#000;transform-origin:0 0;transform:matrix(1.236,0.002,0,1,0,0);-webkit-text-stroke:0.42px #000;">g</div>
<div class="t" style="left:134.32px;top:82.84px;font:normal normal 10.8px/1 'Liberation Mono';color:#111;transform-origin:0 0;transform:matrix(0.890,0.002,0,1,0,0);-webkit-text-stroke:0.2px #111;">S</div>
<div class="t" style="left:136.07px;top:92.24px;font:normal normal 10.4px/1 'Liberation Mono';color:#111;transform-origin:0 0;transform:matrix(1.002,0.002,0,1,0,0);-webkit-text-stroke:0.27px #111;">Hbb</div>
<div class="t" style="left:158.74px;top:93.32px;font:normal normal 8.6px/1 'Liberation Mono';color:#8a8a8a;transform-origin:0 0;transform:matrix(0.818,0.002,0,1,0,0);">(</div>
<div class="t" style="left:162.80px;top:92.35px;font:normal normal 10px/1 'Liberation Mono';color:#222;transform-origin:0 0;transform:matrix(1.250,0.002,0,1,0,0);-webkit-text-stroke:0.25px #222;">H</div>
<div class="t" style="left:170.33px;top:93.11px;font:normal normal 9.0px/1 'Liberation Mono';color:#6a6a6a;transform-origin:0 0;transform:matrix(1.136,0.002,0,1,0,0);">τ</div>
<div class="t" style="left:176.52px;top:93.11px;font:normal normal 9.0px/1 'Liberation Mono';color:#6a6a6a;transform-origin:0 0;transform:matrix(1.162,0.002,0,1,0,0);">τ</div>
<div class="t" style="left:182.95px;top:93.32px;font:normal normal 8.6px/1 'Liberation Mono';color:#8a8a8a;transform-origin:0 0;transform:matrix(0.878,0.002,0,1,0,0);">)</div>
<div class="t" style="left:190.52px;top:87.29px;font:normal normal 14px/1 'Liberation Mono';color:#555;transform-origin:0 0;transform:matrix(0.804,0.002,0,1,0,0);">/</div>
<div class="t" style="left:198.59px;top:84.80px;font:normal normal 14.2px/1 'Liberation Sans';color:#000;transform-origin:0 0;transform:matrix(1.252,0.002,0,1,0,0);-webkit-text-stroke:0.42px #000;">g</div>
<div class="t" style="left:207.52px;top:82.84px;font:normal normal 10.8px/1 'Liberation Mono';color:#111;transform-origin:0 0;transform:matrix(0.890,0.002,0,1,0,0);-webkit-text-stroke:0.2px #111;">S</div>
<div class="t" style="left:208.85px;top:92.54px;font:normal normal 10.4px/1 'Liberation Mono';color:#111;transform-origin:0 0;transform:matrix(1.024,0.002,0,1,0,0);-webkit-text-stroke:0.27px #111;">Htt</div>
<div class="t" style="left:228.90px;top:88.80px;font:normal normal 11.5px/1 'Liberation Mono';color:#555;transform-origin:0 0;transform:matrix(1.112,0.002,0,1,0,0);">=</div>
<div class="t" style="left:237.33px;top:85.48px;font:normal normal 14.8px/1 'Liberation Mono';color:#000;transform-origin:0 0;transform:matrix(0.941,0.002,0,1,0,0);-webkit-text-stroke:0.38px #000;">20</div>
<div class="t" style="left:125.50px;top:108.35px;font:normal normal 14.2px/1 'Liberation Sans';color:#000;transform-origin:0 0;transform:matrix(1.236,0.002,0,1,0,0);-webkit-text-stroke:0.42px #000;">g</div>
<div class="t" style="left:134.32px;top:106.39px;font:normal normal 10.8px/1 'Liberation Mono';color:#111;transform-origin:0 0;transform:matrix(0.890,0.002,0,1,0,0);-webkit-text-stroke:0.2px #111;">S</div>
<div class="t" style="left:136.07px;top:115.79px;font:normal normal 10.4px/1 'Liberation Mono';color:#111;transform-origin:0 0;transform:matrix(1.002,0.002,0,1,0,0);-webkit-text-stroke:0.27px #111;">Hbb</div>
<div class="t" style="left:158.74px;top:116.87px;font:normal normal 8.6px/1 'Liberation Mono';color:#8a8a8a;transform-origin:0 0;transform:matrix(0.818,0.002,0,1,0,0);">(</div>
<div class="t" style="left:162.80px;top:115.90px;font:normal normal 10px/1 'Liberation Mono';color:#222;transform-origin:0 0;transform:matrix(1.250,0.002,0,1,0,0);-webkit-text-stroke:0.25px #222;">H</div>
<div class="t" style="left:170.33px;top:116.67px;font:normal normal 9.0px/1 'Liberation Mono';color:#6a6a6a;transform-origin:0 0;transform:matrix(1.136,0.002,0,1,0,0);">τ</div>
<div class="t" style="left:176.52px;top:116.67px;font:normal normal 9.0px/1 'Liberation Mono';color:#6a6a6a;transform-origin:0 0;transform:matrix(1.162,0.002,0,1,0,0);">τ</div>
<div class="t" style="left:182.95px;top:116.87px;font:normal normal 8.6px/1 'Liberation Mono';color:#8a8a8a;transform-origin:0 0;transform:matrix(0.878,0.002,0,1,0,0);">)</div>
<div class="t" style="left:190.52px;top:110.84px;font:normal normal 14px/1 'Liberation Mono';color:#555;transform-origin:0 0;transform:matrix(0.804,0.002,0,1,0,0);">/</div>
<div class="t" style="left:198.59px;top:108.35px;font:normal normal 14.2px/1 'Liberation Sans';color:#000;transform-origin:0 0;transform:matrix(1.252,0.002,0,1,0,0);-webkit-text-stroke:0.42px #000;">g</div>
<div class="t" style="left:207.52px;top:106.39px;font:normal normal 10.8px/1 'Liberation Mono';color:#111;transform-origin:0 0;transform:matrix(0.890,0.002,0,1,0,0);-webkit-text-stroke:0.2px #111;">S</div>
<div class="t" style="left:208.85px;top:116.09px;font:normal normal 10.4px/1 'Liberation Mono';color:#111;transform-origin:0 0;transform:matrix(1.024,0.002,0,1,0,0);-webkit-text-stroke:0.27px #111;">Htt</div>
<div class="t" style="left:228.90px;top:112.35px;font:normal normal 11.5px/1 'Liberation Mono';color:#555;transform-origin:0 0;transform:matrix(1.112,0.002,0,1,0,0);">=</div>
<div class="t" style="left:237.40px;top:109.03px;font:normal normal 14.8px/1 'Liberation Mono';color:#000;transform-origin:0 0;transform:matrix(0.937,0.002,0,1,0,0);-webkit-text-stroke:0.38px #000;">50</div>
<div class="t" style="left:344.21px;top:203.00px;font:normal normal 14.2px/1 'Liberation Sans';color:#000;transform-origin:0 0;transform:matrix(1.221,0.002,0,1,0,0);-webkit-text-stroke:0.2px #000;">g</div>
<div class="t" style="left:354.99px;top:210.25px;font:normal normal 10px/1 'Liberation Mono';color:#111;transform-origin:0 0;transform:matrix(1.017,0.002,0,1,0,0);">HWW</div>
<div class="t" style="left:375.43px;top:205.89px;font:normal normal 14px/1 'Liberation Mono';color:#888;transform-origin:0 0;transform:matrix(0.685,0.002,0,1,0,0);">/</div>
<div class="t" style="left:382.41px;top:203.00px;font:normal normal 14.2px/1 'Liberation Sans';color:#000;transform-origin:0 0;transform:matrix(1.221,0.002,0,1,0,0);-webkit-text-stroke:0.2px #000;">g</div>
<div class="t" style="left:391.39px;top:201.24px;font:normal normal 10.8px/1 'Liberation Mono';color:#111;transform-origin:0 0;transform:matrix(0.944,0.002,0,1,0,0);-webkit-text-stroke:0.2px #111;">S</div>
<div class="t" style="left:392.73px;top:210.64px;font:normal normal 10.4px/1 'Liberation Mono';color:#111;transform-origin:0 0;transform:matrix(1.048,0.002,0,1,0,0);-webkit-text-stroke:0.12px #111;">Htt</div>
<div class="t" style="left:412.87px;top:207.00px;font:normal normal 11.5px/1 'Liberation Mono';color:#444;transform-origin:0 0;transform:matrix(1.147,0.002,0,1,0,0);">=</div>
<div class="t" style="left:421.84px;top:204.95px;font:normal normal 13.4px/1 'Liberation Mono';color:#000;transform-origin:0 0;transform:matrix(1.026,0.002,0,1,0,0);-webkit-text-stroke:0.15px #000;">1</div>
</div></body></html>
